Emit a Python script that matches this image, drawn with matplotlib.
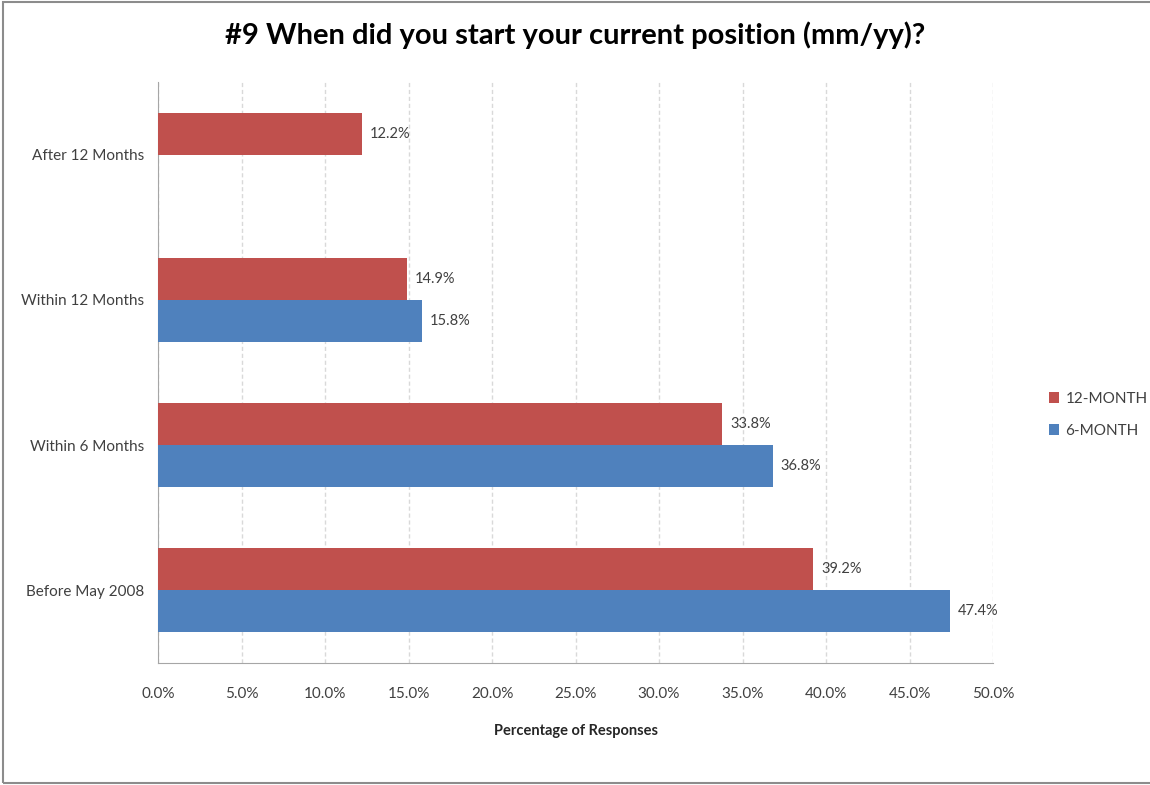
import matplotlib.pyplot as plt
import numpy as np
from matplotlib.patches import Rectangle

# Категории (снизу вверх) и значения
categories = ["Before May 2008", "Within 6 Months", "Within 12 Months", "After 12 Months"]
twelve_month = [39.2, 33.8, 14.9, 12.2]
six_month = [47.4, 36.8, 15.8, np.nan]
series_names = ["12-MONTH", "6-MONTH"]
xticks = [0, 5, 10, 15, 20, 25, 30, 35, 40, 45, 50]

plt.rcParams['font.family'] = ['Lato', 'DejaVu Sans']

red = '#C0504D'
blue = '#4F81BD'
text_color = '#404040'

fig = plt.figure(figsize=(11.5, 7.85), dpi=100)
ax = fig.add_axes([158 / 1150, 1 - 663 / 785, (993 - 158) / 1150, (663 - 82) / 785])

y = np.arange(len(categories))
h = 0.29
ax.barh(y + h / 2, twelve_month, height=h, color=red, label=series_names[0], zorder=3)
ax.barh(y - h / 2, six_month, height=h, color=blue, label=series_names[1], zorder=3)

# Подписи значений
for yi, v in zip(y, twelve_month):
    if not np.isnan(v):
        ax.text(v + 0.5, yi + h / 2, f"{v:.1f}%", va='center', ha='left', fontsize=10.5, color=text_color)
for yi, v in zip(y, six_month):
    if not np.isnan(v):
        ax.text(v + 0.5, yi - h / 2, f"{v:.1f}%", va='center', ha='left', fontsize=10.5, color=text_color)

ax.set_xlim(0, 50)
ax.set_ylim(-0.5, 3.5)
ax.set_xticks(xticks)
ax.set_xticklabels([f"{t:.1f}%" for t in xticks], fontsize=11, color=text_color)
ax.set_yticks(y)
ax.set_yticklabels(categories, fontsize=11, color=text_color)
ax.tick_params(length=0, pad=10)
ax.tick_params(axis='x', pad=17)

ax.grid(axis='x', color='#D9D9D9', linestyle=(0, (3, 2)), linewidth=1, zorder=0)
for side in ['top', 'right']:
    ax.spines[side].set_visible(False)
for side in ['left', 'bottom']:
    ax.spines[side].set_color('#A6A6A6')

ax.set_xlabel("Percentage of Responses", fontsize=10.5, fontweight='bold', color='#262626', labelpad=17)

fig.text(575 / 1150, 1 - 35 / 785, "#9 When did you start your current position (mm/yy)?",
         ha='center', va='center', fontsize=21, fontweight='bold', color='black')

ax.legend(loc='center left', bbox_to_anchor=(1.05, 0.427), frameon=False, fontsize=11,
          handlelength=0.7, handleheight=0.7, handletextpad=0.4, labelspacing=1.2,
          labelcolor=text_color)

# Рамка вокруг диаграммы (справа обрезана)
fig.patches.append(Rectangle((3 / 1150, 2 / 785), 1.1, 1 - 4 / 785, transform=fig.transFigure,
                             fill=False, edgecolor='#8C8C8C', linewidth=1.5))

plt.savefig('out.png', dpi=100)
